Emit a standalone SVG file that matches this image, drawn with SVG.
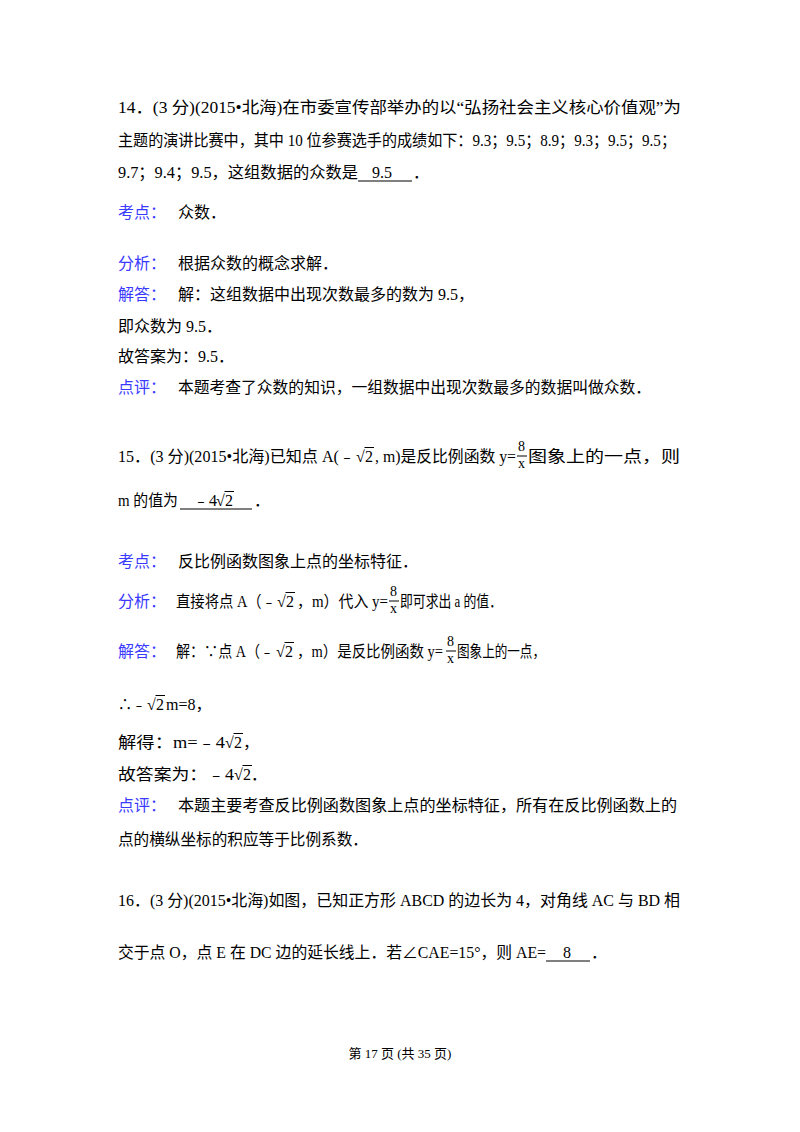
<svg xmlns="http://www.w3.org/2000/svg" width="800" height="1132" viewBox="0 0 800 1132">
<style>
text{font-family:"Liberation Serif","Noto Sans CJK SC",serif;font-size:16px;fill:#000}
.b{fill:#3a3aff}
.s{font-size:14px}
.u{stroke:#000;stroke-width:1}
</style>
<defs>
<g id="fr"><text class="s" x="1" y="-11">8</text><line class="u" x1="0" y1="-6" x2="10" y2="-6"/><text class="s" x="1" y="6">x</text></g>
<g id="sq"><text x="0" y="0">√</text><line class="u" x1="8.5" y1="-14.5" x2="18" y2="-14.5"/><text x="9" y="0">2</text></g>
</defs>
<rect width="800" height="1132" fill="#fff"/>
<g id="q14">
<text x="118" y="113" textLength="563" lengthAdjust="spacingAndGlyphs">14．(3 分)(2015•北海)在市委宣传部举办的以“弘扬社会主义核心价值观”为</text>
<text x="118" y="146" textLength="558" lengthAdjust="spacingAndGlyphs">主题的演讲比赛中，其中 10 位参赛选手的成绩如下：9.3；9.5；8.9；9.3；9.5；9.5；</text>
<text x="118" y="178" textLength="240" lengthAdjust="spacingAndGlyphs">9.7；9.4；9.5，这组数据的众数是</text>
<text x="372" y="178">9.5</text>
<line class="u" x1="358" y1="181" x2="412" y2="181"/>
<text x="413" y="178">．</text>
<text class="b" x="118" y="218">考点：</text><text x="178" y="218">众数．</text>
<text class="b" x="118" y="269">分析：</text><text x="178" y="269">根据众数的概念求解．</text>
<text class="b" x="118" y="300">解答：</text><text x="178" y="300">解：这组数据中出现次数最多的数为 9.5，</text>
<text x="118" y="332">即众数为 9.5．</text>
<text x="118" y="362">故答案为：9.5．</text>
<text class="b" x="118" y="393">点评：</text><text x="178" y="393" textLength="473" lengthAdjust="spacingAndGlyphs">本题考查了众数的知识，一组数据中出现次数最多的数据叫做众数．</text>
</g>
<g id="q15">
<text x="118" y="462" textLength="237" lengthAdjust="spacingAndGlyphs">15．(3 分)(2015•北海)已知点 A(﹣</text>
<use href="#sq" x="356" y="462"/>
<text x="375" y="462" textLength="141" lengthAdjust="spacingAndGlyphs">, m)是反比例函数 y=</text>
<use href="#fr" x="517" y="462"/>
<text x="528" y="462" textLength="152" lengthAdjust="spacingAndGlyphs">图象上的一点，则</text>
<text x="118" y="506" textLength="60" lengthAdjust="spacingAndGlyphs">m 的值为</text>
<line class="u" x1="180" y1="509" x2="252" y2="509"/>
<text x="193" y="506">﹣4</text>
<use href="#sq" x="216" y="506"/>
<text x="254" y="506">．</text>
<text class="b" x="118" y="567">考点：</text><text x="178" y="567">反比例函数图象上点的坐标特征．</text>
<text class="b" x="118" y="607">分析：</text>
<text x="176" y="607" textLength="100" lengthAdjust="spacingAndGlyphs">直接将点 A（﹣</text>
<use href="#sq" x="277" y="607"/>
<text x="297" y="607" textLength="91" lengthAdjust="spacingAndGlyphs">，m）代入 y=</text>
<use href="#fr" x="389" y="607"/>
<text x="400" y="607" textLength="102" lengthAdjust="spacingAndGlyphs">即可求出 a 的值．</text>
<text class="b" x="118" y="657">解答：</text>
<text x="176" y="657" textLength="98" lengthAdjust="spacingAndGlyphs">解：∵点 A（﹣</text>
<use href="#sq" x="276" y="657"/>
<text x="297" y="657" textLength="146" lengthAdjust="spacingAndGlyphs">，m）是反比例函数 y=</text>
<use href="#fr" x="446" y="657"/>
<text x="457" y="657" textLength="88" lengthAdjust="spacingAndGlyphs">图象上的一点，</text>
<text x="118" y="710" textLength="28" lengthAdjust="spacingAndGlyphs">∴﹣</text>
<use href="#sq" x="147" y="710"/>
<text x="166" y="710">m=8，</text>
<text x="118" y="748" textLength="107" lengthAdjust="spacingAndGlyphs">解得：m=﹣4</text>
<use href="#sq" x="225" y="748"/>
<text x="243" y="748">，</text>
<text x="118" y="780" textLength="116" lengthAdjust="spacingAndGlyphs">故答案为：﹣4</text>
<use href="#sq" x="234" y="780"/>
<text x="251" y="780">．</text>
<text class="b" x="118" y="811">点评：</text><text x="178" y="811" textLength="499" lengthAdjust="spacingAndGlyphs">本题主要考查反比例函数图象上点的坐标特征，所有在反比例函数上的</text>
<text x="118" y="845" textLength="250" lengthAdjust="spacingAndGlyphs">点的横纵坐标的积应等于比例系数．</text>
</g>
<g id="q16">
<text x="118" y="906" textLength="562" lengthAdjust="spacingAndGlyphs">16．(3 分)(2015•北海)如图，已知正方形 ABCD 的边长为 4，对角线 AC 与 BD 相</text>
<text x="118" y="958" textLength="428" lengthAdjust="spacingAndGlyphs">交于点 O，点 E 在 DC 边的延长线上．若∠CAE=15°，则 AE=</text>
<line class="u" x1="546" y1="961" x2="590" y2="961"/>
<text x="563" y="958">8</text>
<text x="591" y="958">．</text>
</g>
<text x="400" y="1058" text-anchor="middle" style="font-size:13px">第 17 页 (共 35 页)</text>
</svg>
